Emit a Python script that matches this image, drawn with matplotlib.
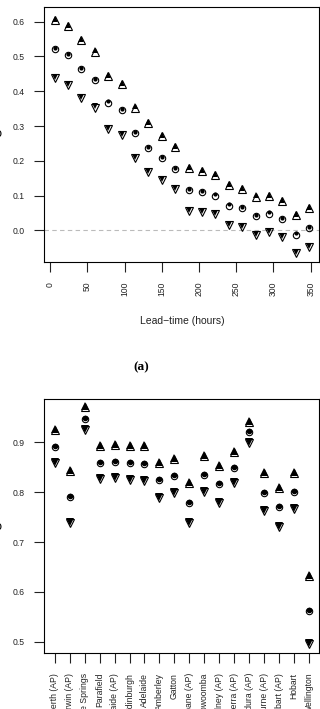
import matplotlib
matplotlib.use("Agg")
import matplotlib.pyplot as plt
from matplotlib.transforms import ScaledTranslation

plt.rcParams['font.family'] = ['Liberation Sans', 'DejaVu Sans']

# panel (a): skill against lead time
lead_hours = [6, 24, 42, 60, 78, 96, 114, 132, 150, 168,
              186, 204, 222, 240, 258, 276, 294, 312, 330, 348]
upper_a = [0.605, 0.588, 0.548, 0.514, 0.444, 0.420, 0.353, 0.308, 0.272, 0.240,
           0.180, 0.171, 0.159, 0.130, 0.119, 0.097, 0.099, 0.085, 0.044, 0.063]
mid_a = [0.521, 0.503, 0.464, 0.432, 0.367, 0.346, 0.279, 0.237, 0.207, 0.177,
         0.116, 0.110, 0.100, 0.071, 0.063, 0.041, 0.048, 0.033, -0.012, 0.007]
lower_a = [0.437, 0.418, 0.381, 0.353, 0.290, 0.274, 0.207, 0.167, 0.145, 0.118,
           0.056, 0.053, 0.046, 0.015, 0.009, -0.014, -0.004, -0.019, -0.066, -0.047]

# panel (b): skill per station
stations = ["Perth (AP)", "Darwin (AP)", "Alice Springs", "Parafield", "Adelaide (AP)",
            "Edinburgh", "Adelaide", "Amberley", "Gatton", "Brisbane (AP)",
            "Toowoomba", "Sydney (AP)", "Canberra (AP)", "Mildura (AP)",
            "Melbourne (AP)", "Hobart (AP)", "Hobart", "Wellington"]
upper_b = [0.924, 0.843, 0.970, 0.893, 0.895, 0.893, 0.892, 0.859, 0.867, 0.818,
           0.873, 0.853, 0.881, 0.940, 0.839, 0.809, 0.838, 0.632]
mid_b = [0.891, 0.790, 0.947, 0.859, 0.861, 0.859, 0.857, 0.824, 0.833, 0.778,
         0.835, 0.816, 0.849, 0.920, 0.799, 0.770, 0.801, 0.562]
lower_b = [0.859, 0.738, 0.924, 0.826, 0.828, 0.825, 0.823, 0.788, 0.798, 0.738,
           0.801, 0.779, 0.818, 0.898, 0.762, 0.731, 0.766, 0.495]

fig = plt.figure(figsize=(3.2, 7.09), dpi=100)
ax_a = fig.add_axes([0.139, 0.6309, 0.859, 0.3592])
ax_b = fig.add_axes([0.139, 0.0794, 0.859, 0.3578])


def draw_points(ax, x, ys, open_size, fill_size, shift_px):
    # open marker, then a smaller solid one nudged up a little
    up = ax.transData + ScaledTranslation(0, shift_px / 100, fig.dpi_scale_trans)
    for y, m, k in zip(ys, ['^', 'o', 'v'], [1.0, 0.72, 1.0]):
        ax.plot(x, y, ls='none', marker=m, ms=open_size * k, mfc='none',
                mec='black', mew=0.8, zorder=3)
        ax.plot(x, y, ls='none', marker=m, ms=fill_size * k, mfc='black',
                mec='black', mew=0, zorder=4, transform=up)


def style_axes(ax):
    for s in ax.spines.values():
        s.set_linewidth(0.8)
    ax.tick_params(length=7.5, width=0.8, labelsize=6.2, pad=7, colors='#222222')


# panel (a)
ax_a.axhline(0, color='#bbbbbb', lw=0.8, ls=(0, (4, 3)), zorder=1)
draw_points(ax_a, lead_hours, [upper_a, mid_a, lower_a], 6.4, 4.2, 1.2)
ax_a.set_xlim(-7.7, 361.7)
ax_a.set_ylim(-0.09, 0.642)
ax_a.set_xticks(range(0, 351, 50))
ax_a.set_yticks([0.0, 0.1, 0.2, 0.3, 0.4, 0.5, 0.6])
ax_a.set_yticklabels(['0.0', '0.1', '0.2', '0.3', '0.4', '0.5', '0.6'])
style_axes(ax_a)
ax_a.tick_params(axis='x', labelrotation=90)
for t in ax_a.get_xticklabels():
    t.set_va('top')
ax_a.set_xlabel('Lead\u2212time (hours)', fontsize=7.5, labelpad=14, color='#222222')
fig.text(0.005, 1 - 134 / 709, '\u03c1', ha='right', va='center', fontsize=9)

fig.text(141.7 / 320, 1 - 367.7 / 709, '(a)', ha='center', va='center',
         fontsize=9.7, fontweight='bold', family='Liberation Serif')

# panel (b)
idx = list(range(1, len(stations) + 1))
draw_points(ax_b, idx, [upper_b, mid_b, lower_b], 6.4, 5.6, 1.0)
ax_b.set_xlim(0.32, 18.68)
ax_b.set_ylim(0.478, 0.987)
ax_b.set_xticks(idx)
ax_b.set_xticklabels(stations, rotation=90, va='top')
ax_b.set_yticks([0.5, 0.6, 0.7, 0.8, 0.9])
style_axes(ax_b)
fig.text(0.005, 1 - 527 / 709, '\u03c1', ha='right', va='center', fontsize=9)

fig.savefig('out.png', dpi=100)
